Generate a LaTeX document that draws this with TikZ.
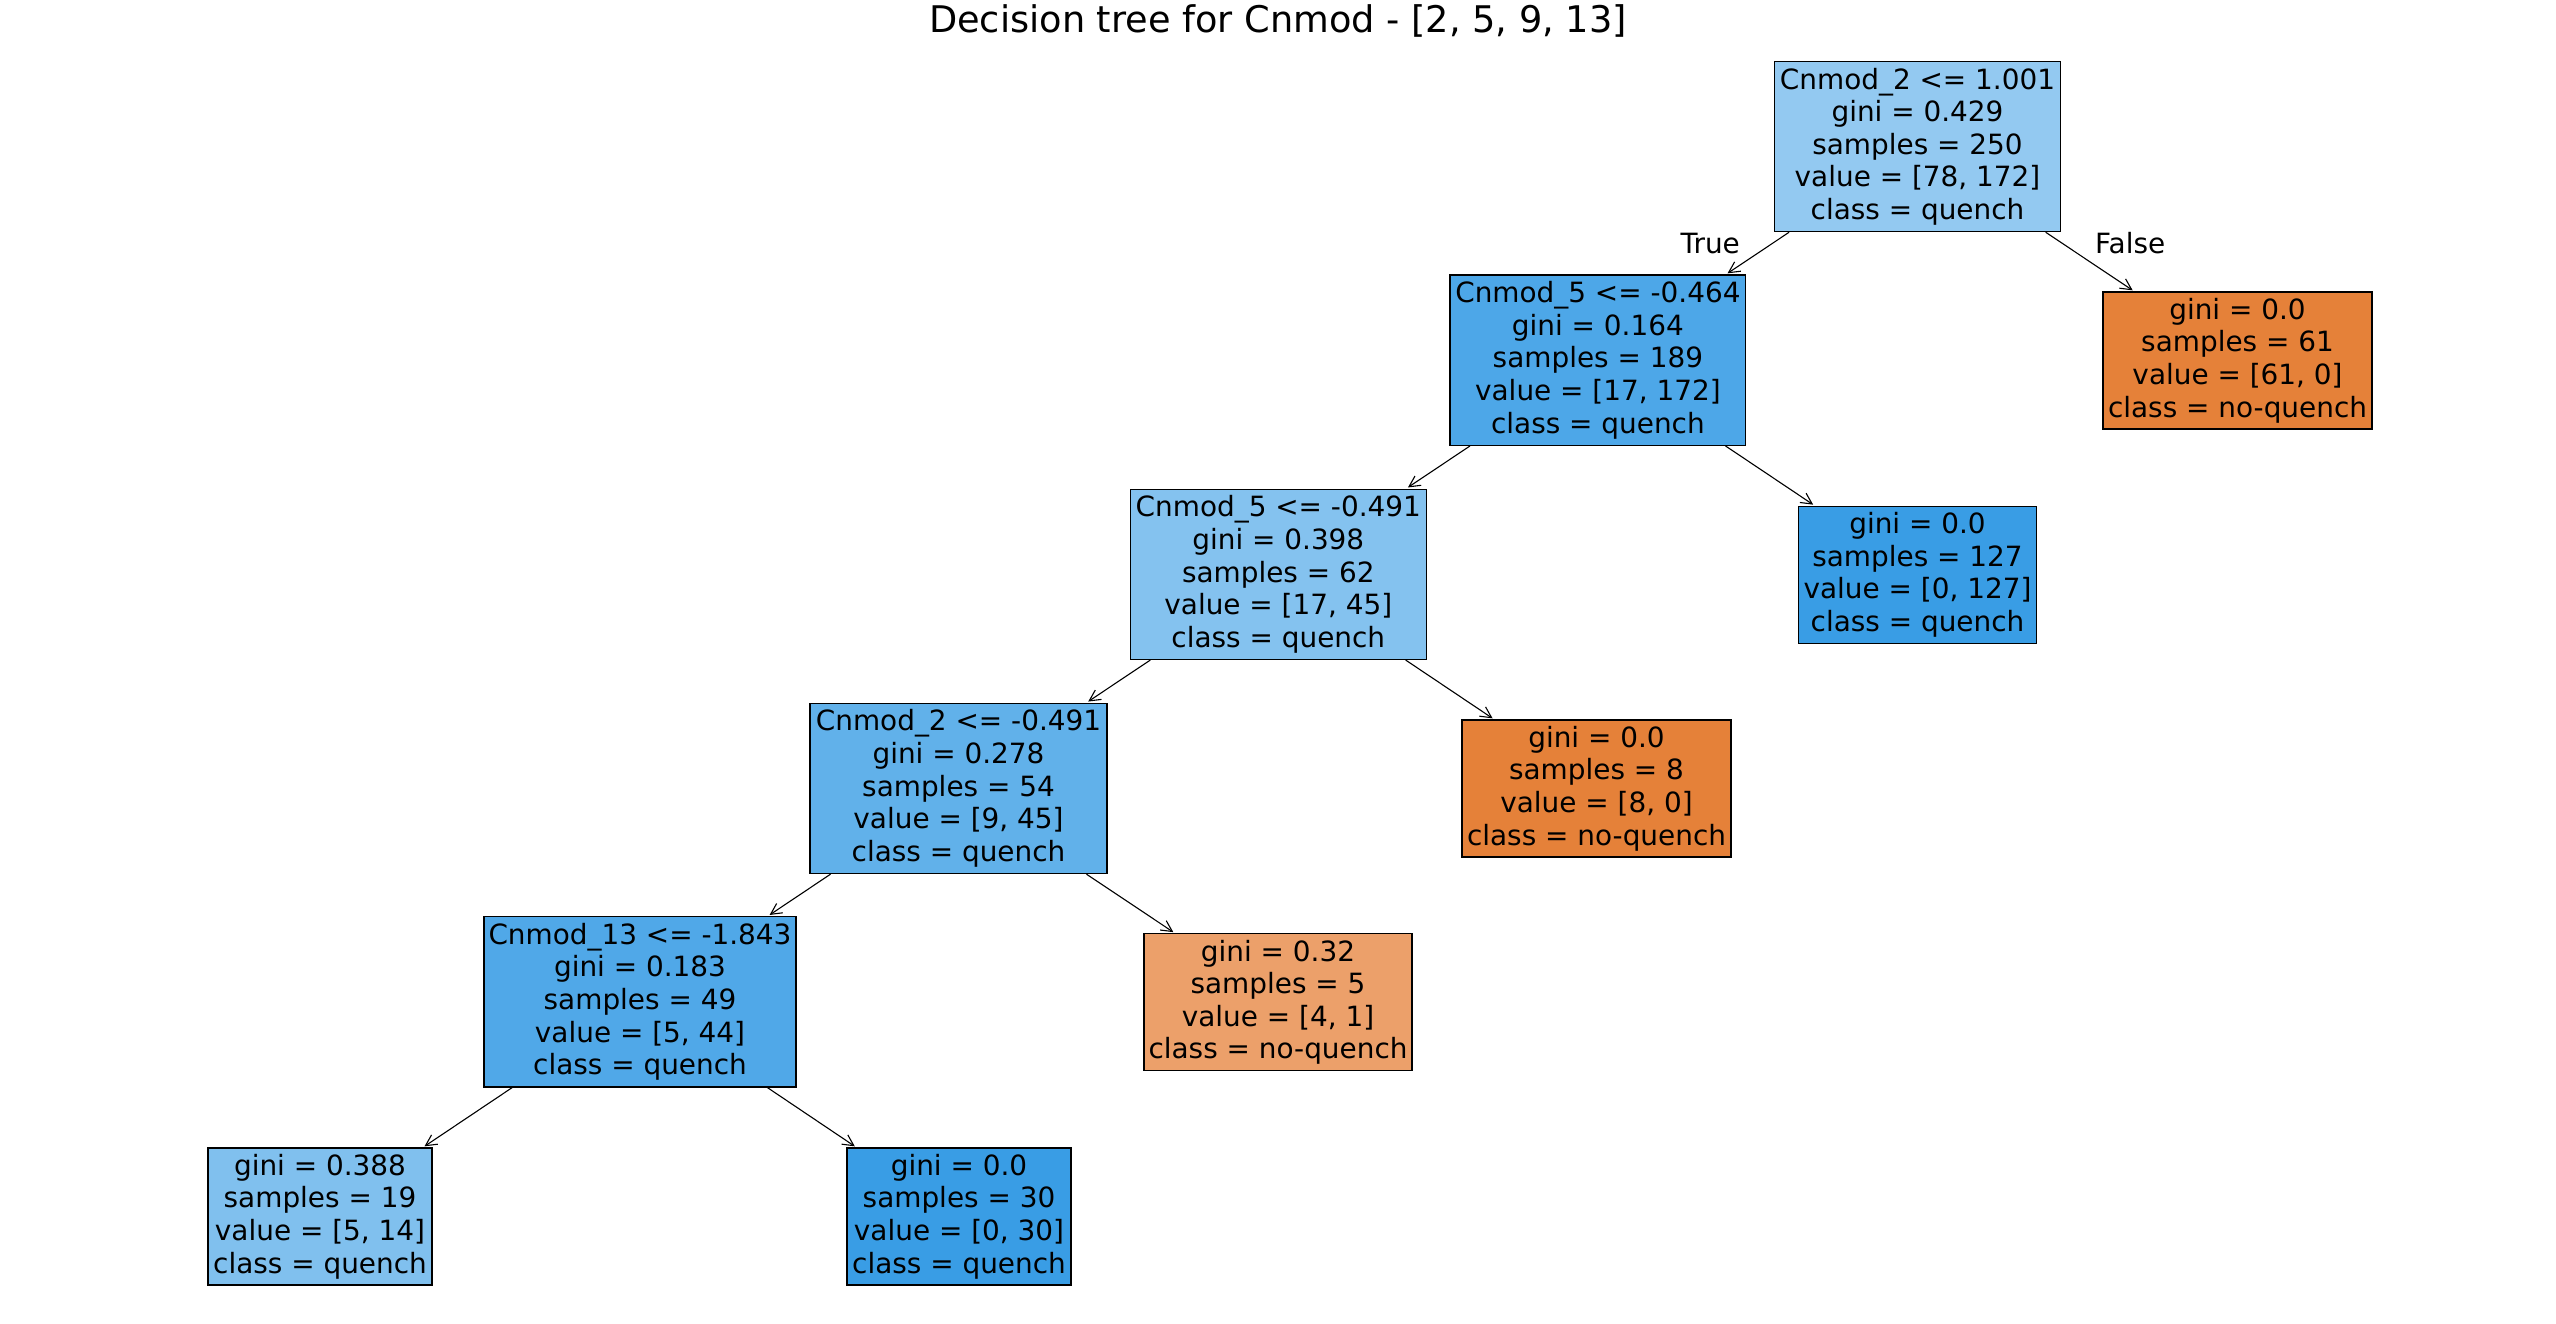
\documentclass[tikz,border=0pt]{standalone}
\usepackage{fontspec}
\setmainfont{DejaVu Sans}
\usetikzlibrary{arrows.meta}
\definecolor{cRoot}{RGB}{147,201,241}
\definecolor{cNa}{RGB}{77,167,232}
\definecolor{cNb}{RGB}{132,194,239}
\definecolor{cNc}{RGB}{97,177,234}
\definecolor{cNd}{RGB}{80,168,232}
\definecolor{cLnineteen}{RGB}{128,192,238}
\definecolor{cBlue}{RGB}{57,157,229}
\definecolor{cOrange}{RGB}{229,129,57}
\definecolor{cLfive}{RGB}{236,160,106}
\begin{document}
\begin{tikzpicture}[x=1pt,y=-1pt,
  box/.style={draw=black, line width=1.2pt, inner sep=0pt, outer sep=0pt,
    align=center, font={\fontsize{27.9pt}{32.6pt}\selectfont},
    minimum height=170.4pt},
  leafbox/.style={box, minimum height=137pt},
  edgearrow/.style={line width=1.1pt, -{Straight Barb[length=11pt,width=11.2pt]},
    shorten >=3pt, shorten <=1pt},
  lbl/.style={inner sep=0pt, font={\fontsize{27.9pt}{32.6pt}\selectfont}},
  ttl/.style={inner sep=0pt, font={\fontsize{36.7pt}{44pt}\selectfont}}]
\useasboundingbox (0,0) rectangle (2556,1323);

\node[ttl, anchor=base] (title) at (1278,32.3) {Decision tree for Cnmod - [2, 5, 9, 13]};

\node[box, fill=cRoot, minimum width=286.4pt] (root) at (1917.5,146.5)
  {Cnmod\_2 <= 1.001\\gini = 0.429\\samples = 250\\value = [78, 172]\\class = quench};
\node[box, fill=cNa, minimum width=295.7pt] (n1) at (1597.9,360.2)
  {Cnmod\_5 <= -0.464\\gini = 0.164\\samples = 189\\value = [17, 172]\\class = quench};
\node[leafbox, fill=cOrange, minimum width=269pt] (lf61) at (2237.5,360.5)
  {gini = 0.0\\samples = 61\\value = [61, 0]\\class = no-quench};
\node[box, fill=cNb, minimum width=296pt] (n2) at (1278.3,574.3)
  {Cnmod\_5 <= -0.491\\gini = 0.398\\samples = 62\\value = [17, 45]\\class = quench};
\node[leafbox, fill=cBlue, minimum width=238.4pt] (lf127) at (1917.5,574.8)
  {gini = 0.0\\samples = 127\\value = [0, 127]\\class = quench};
\node[box, fill=cNc, minimum width=297pt] (n3) at (958.5,788.4)
  {Cnmod\_2 <= -0.491\\gini = 0.278\\samples = 54\\value = [9, 45]\\class = quench};
\node[leafbox, fill=cOrange, minimum width=269pt] (lf8) at (1596.5,788.5)
  {gini = 0.0\\samples = 8\\value = [8, 0]\\class = no-quench};
\node[box, fill=cNd, minimum width=312pt] (n4) at (640,1001.8)
  {Cnmod\_13 <= -1.843\\gini = 0.183\\samples = 49\\value = [5, 44]\\class = quench};
\node[leafbox, fill=cLfive, minimum width=268pt] (lf5) at (1278,1002.3)
  {gini = 0.32\\samples = 5\\value = [4, 1]\\class = no-quench};
\node[leafbox, fill=cLnineteen, minimum width=224pt] (lf19) at (320,1216.5)
  {gini = 0.388\\samples = 19\\value = [5, 14]\\class = quench};
\node[leafbox, fill=cBlue, minimum width=224pt] (lf30) at (959,1216.5)
  {gini = 0.0\\samples = 30\\value = [0, 30]\\class = quench};

\draw[edgearrow] (root) -- (n1);
\draw[edgearrow] (root) -- (lf61);
\draw[edgearrow] (n1) -- (n2);
\draw[edgearrow] (n1) -- (lf127);
\draw[edgearrow] (n2) -- (n3);
\draw[edgearrow] (n2) -- (lf8);
\draw[edgearrow] (n3) -- (n4);
\draw[edgearrow] (n3) -- (lf5);
\draw[edgearrow] (n4) -- (lf19);
\draw[edgearrow] (n4) -- (lf30);

\node[lbl, anchor=base east] (ltrue) at (1740,253.5) {True};
\node[lbl, anchor=base west] (lfalse) at (2095,253.5) {False};
\end{tikzpicture}
\end{document}
